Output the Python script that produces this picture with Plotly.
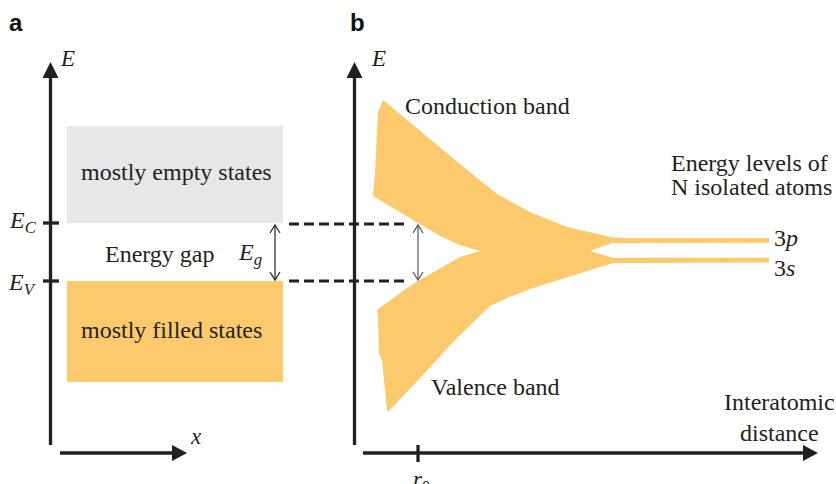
import plotly.graph_objects as go

# ---------------- data (schematic, in canvas units: x right, y down) ----------------
# Conduction band edges
cond_upper_x = [383, 420, 460, 497, 530, 567, 600, 613, 625, 769]
cond_upper_y = [100, 131, 164, 194, 212, 227, 235, 237.5, 238, 238]
cond_lower_x = [373, 407, 440, 460, 480]
cond_lower_y = [196, 216, 236, 245, 251]
cond_left_x = [373, 375, 377, 378, 383]
cond_left_y = [196, 173, 140, 112, 100]
# Split of the two atomic levels (3p above, 3s below)
notch_x = [769, 625, 613, 603, 590, 603, 613, 625, 769]
notch_y = [242.7, 242.7, 243, 246, 251, 255, 257.7, 257.7, 257.7]
# Valence band edges
val_lower_x = [769, 625, 613, 600, 567, 533, 520, 507, 490, 455, 420, 388]
val_lower_y = [262.5, 262.5, 263, 267, 277, 288, 293, 298, 306, 340, 378, 412]
val_left_x = [388, 387, 382, 379, 378, 377]
val_left_y = [412, 410, 360, 353, 317, 310]
val_upper_x = [377, 407, 418, 440, 460, 480]
val_upper_y = [310, 288, 281, 268, 257, 251]

# Panel a band diagram
EC_level = 223
EV_level = 281
empty_top = 126
filled_bottom = 382
rect_left, rect_right = 67, 283

ORANGE = "#FCCA6C"
GREY = "#E6E7E7"
INK = "#231F20"
SERIF = "Liberation Serif"

band_x = cond_upper_x + notch_x + val_lower_x + val_left_x + val_upper_x + cond_lower_x[::-1] + cond_left_x
band_y = cond_upper_y + notch_y + val_lower_y + val_left_y + val_upper_y + cond_lower_y[::-1] + cond_left_y

fig = go.Figure()
fig.add_trace(go.Scatter(x=band_x, y=band_y, mode="lines", fill="toself",
                         fillcolor=ORANGE, line=dict(width=0, color=ORANGE),
                         hoverinfo="skip", showlegend=False))

shapes = []
# rectangles panel a
shapes.append(dict(type="rect", x0=rect_left, x1=rect_right, y0=empty_top, y1=EC_level,
                   fillcolor=GREY, line=dict(width=0), layer="below"))
shapes.append(dict(type="rect", x0=rect_left, x1=rect_right, y0=EV_level, y1=filled_bottom,
                   fillcolor=ORANGE, line=dict(width=0), layer="below"))

def line(x0, y0, x1, y1, w=3.3, color=INK, dash=None):
    d = dict(type="line", x0=x0, y0=y0, x1=x1, y1=y1, line=dict(width=w, color=color))
    if dash:
        d["line"]["dash"] = dash
    shapes.append(d)

def tri(path):
    shapes.append(dict(type="path", path=path, fillcolor=INK, line=dict(width=0)))

# axes panel a
line(50.5, 445, 50.5, 74)
tri("M 50.5 62 L 42.5 78 L 58.5 78 Z")
line(60, 453, 176, 453)
tri("M 187 453 L 172 445 L 172 461 Z")
# ticks panel a
line(43, EC_level, 59, EC_level)
line(43, EV_level, 59, EV_level)
# axes panel b
line(354.5, 445, 354.5, 74)
tri("M 354.5 62 L 346.5 78 L 362.5 78 Z")
line(363, 453, 806, 453)
tri("M 818 453 L 803 445 L 803 461 Z")
# r0 tick
line(418, 445, 418, 462)
# dashed guides
line(289, EC_level + 1, 408, EC_level + 1, w=3, dash="10px,5px")
line(289, EV_level, 408, EV_level, w=3, dash="10px,5px")

# double arrows (gap)
def dbl_arrow(x, y0, y1, color, w=1.2):
    line(x, y0 + 1, x, y1 - 1, w=w, color=color)
    shapes.append(dict(type="path", path=f"M {x-5} {y0+9} L {x} {y0+1} L {x+5} {y0+9}",
                       line=dict(width=w, color=color)))
    shapes.append(dict(type="path", path=f"M {x-5} {y1-9} L {x} {y1-1} L {x+5} {y1-9}",
                       line=dict(width=w, color=color)))

dbl_arrow(275, EC_level + 1, EV_level, INK)
dbl_arrow(418, EC_level + 1, EV_level, "#555555")

fig.update_layout(shapes=shapes)

ann = []
def text(x, y, t, size=24, xa="center", ya="middle", family=SERIF, align="center", color=INK):
    ann.append(dict(x=x, y=y, text=t, showarrow=False, xanchor=xa, yanchor=ya,
                    font=dict(family=family, size=size, color=color), align=align))

text(16, 22, "<b>a</b>", size=24, family="Liberation Sans", color="#111")
text(357, 22, "<b>b</b>", size=24, family="Liberation Sans", color="#111")
text(67, 58, "<i>E</i>", size=23)
text(378, 58, "<i>E</i>", size=23)
text(196, 436, "<i>x</i>", size=23)
text(176, 172, "mostly empty states")
text(171, 330, "mostly filled states")
text(160, 254, "Energy gap")
text(250, 254, "<i>E<sub>g</sub></i>")
text(23, 222, "<i>E<sub>C</sub></i>")
text(22, 284, "<i>E<sub>V</sub></i>")
text(487, 106, "Conduction band")
text(495, 387, "Valence band")
text(669, 163, "Energy levels of", xa="left")
text(669, 187, "N isolated atoms", xa="left")
text(772, 238, "3<i>p</i>", xa="left")
text(772, 268, "3<i>s</i>", xa="left")
text(779, 417, "Interatomic<br>distance")
text(411, 465, "<i>r</i><sub>0</sub>", xa="left", ya="top", size=23)
fig.update_layout(annotations=ann)

fig.update_layout(
    width=836, height=484, autosize=False,
    margin=dict(l=0, r=0, t=0, b=0, pad=0),
    paper_bgcolor="white", plot_bgcolor="white",
    xaxis=dict(range=[0, 836], visible=False, fixedrange=True),
    yaxis=dict(range=[484, 0], visible=False, fixedrange=True),
    showlegend=False,
)
fig.write_html("out.html", config={"displayModeBar": False, "staticPlot": True},
               post_script="document.body.style.margin='0';document.body.style.padding='0';document.body.style.overflow='hidden';")
